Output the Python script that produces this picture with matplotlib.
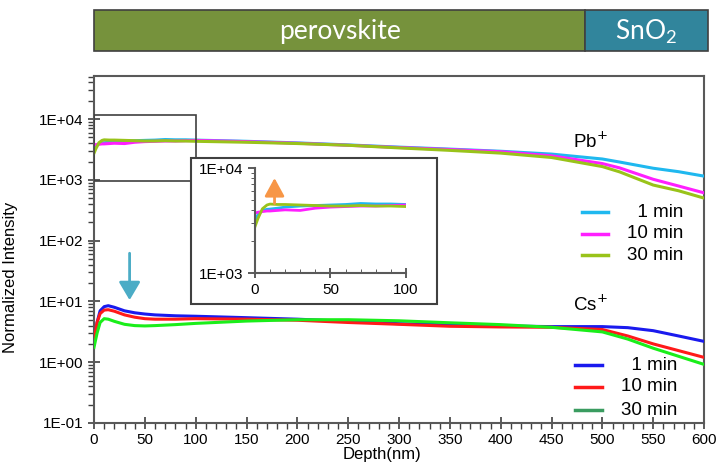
import numpy as np
import matplotlib.pyplot as plt
from matplotlib.patches import Rectangle
from matplotlib.lines import Line2D

plt.rcParams['font.family'] = ['Liberation Sans', 'DejaVu Sans']
plt.rcParams['mathtext.fontset'] = 'custom'
plt.rcParams['mathtext.rm'] = 'Lato'

# depth profile data
depth = [0, 2, 5, 8, 10, 15, 20, 30, 40, 50, 60, 70, 80, 90, 100,
         150, 200, 250, 300, 350, 400, 450, 500, 517, 550, 575, 600]

pb_1 = [3150, 3600, 3950, 4050, 4070, 4150, 4250, 4350, 4400, 4450, 4500, 4600, 4550, 4550, 4500,
        4300, 4050, 3750, 3450, 3200, 2950, 2650, 2200, 1960, 1550, 1360, 1150]
pb_10 = [3730, 3800, 3850, 3900, 3900, 3950, 4000, 3950, 4150, 4250, 4300, 4350, 4350, 4400, 4450,
         4250, 4000, 3700, 3400, 3150, 2900, 2480, 1850, 1570, 1020, 790, 610]
pb_30 = [2750, 3300, 4100, 4450, 4540, 4500, 4500, 4450, 4400, 4350, 4350, 4400, 4350, 4350, 4300,
         4150, 3950, 3700, 3350, 3050, 2750, 2330, 1650, 1350, 820, 660, 500]

cs_depth = [0, 3, 6, 10, 14, 20, 30, 40, 50, 60, 80, 100, 150, 200, 250, 300, 350, 400,
            450, 500, 525, 550, 575, 600]
cs_1 = [2.0, 4.5, 7.0, 8.2, 8.5, 8.0, 7.0, 6.5, 6.2, 6.0, 5.8, 5.7, 5.4, 5.1, 4.7, 4.3, 4.1, 3.95,
        3.85, 3.85, 3.7, 3.3, 2.7, 2.2]
cs_10 = [2.3, 4.5, 6.3, 7.2, 7.3, 6.9, 6.0, 5.5, 5.2, 5.1, 5.1, 5.2, 5.1, 4.9, 4.5, 4.2, 3.9, 3.8,
         3.75, 3.45, 2.7, 2.0, 1.55, 1.2]
cs_30 = [1.76, 3.0, 4.5, 5.2, 5.1, 4.7, 4.2, 4.0, 3.95, 4.0, 4.15, 4.35, 4.75, 5.0, 5.0, 4.8, 4.45, 4.15,
         3.75, 3.15, 2.4, 1.7, 1.25, 0.92]

labels = ['  1 min', '10 min', '30 min']
pb_colors = ['#1fb8ef', '#ff1fff', '#99c31a']
cs_colors = ['#1a1aee', '#ff1a1a', '#1aee1a']
cs_legend_colors = ['#1a1aee', '#ff1a1a', '#3a9c60']

fig = plt.figure(figsize=(7.16, 4.70), dpi=100)
ax = fig.add_axes([0.1313, 0.1, 0.852, 0.7383])

for vals, c in zip([pb_1, pb_10, pb_30], pb_colors):
    ax.plot(depth, vals, color=c, lw=2.2, zorder=3)
for vals, c in zip([cs_1, cs_10, cs_30], cs_colors):
    ax.plot(cs_depth, vals, color=c, lw=2.2, zorder=3)

ax.set_yscale('log')
ax.set_xlim(0, 600)
ax.set_ylim(0.1, 5.1e4)
ax.set_xticks(np.arange(0, 601, 50))
ax.set_xticks(np.arange(0, 601, 10), minor=True)
ax.set_yticks([0.1, 1, 10, 100, 1000, 10000])
ax.set_yticklabels(['1E-01', '1E+00', '1E+01', '1E+02', '1E+03', '1E+04'])
ax.tick_params(which='major', direction='inout', length=8, width=1.2, labelsize=11, colors='#404040',
               labelcolor='black')
ax.tick_params(which='minor', direction='out', length=4, width=1.0, colors='#404040')
ax.tick_params(axis='x', pad=3)
for s in ax.spines.values():
    s.set_color('#595959')
    s.set_linewidth(1.5)
ax.set_xlabel('Depth(nm)', fontsize=12)
ax.xaxis.set_label_coords(0.472, -0.07)
ax.set_ylabel('Normalized Intensity', fontsize=12)
ax.yaxis.set_label_coords(-0.125, 0.42)

# zoom rectangle
ax.add_patch(Rectangle((0, 960), 100, 11500 - 960, fill=False, ec='#404040', lw=1.2, zorder=4))

# labels and legends
ax.text(0.785, 0.81, 'Pb$^{+}$', transform=ax.transAxes, fontsize=13.5, va='center',
        math_fontfamily='dejavusans')
ax.text(0.785, 0.34, 'Cs$^{+}$', transform=ax.transAxes, fontsize=13.5, va='center',
        math_fontfamily='dejavusans')
for i, lab in enumerate(labels):
    y = [0.608, 0.546, 0.484][i]
    ax.add_line(Line2D([0.800, 0.843], [y, y], transform=ax.transAxes, color=pb_colors[i], lw=2.5))
    ax.text(0.9656, y, lab, transform=ax.transAxes, fontsize=13.5, ha='right', va='center')
    y = [0.167, 0.104, 0.037][i]
    ax.add_line(Line2D([0.789, 0.833], [y, y], transform=ax.transAxes, color=cs_legend_colors[i], lw=2.5))
    ax.text(0.956, y, lab, transform=ax.transAxes, fontsize=13.5, ha='right', va='center')

# arrow on Cs
ax.annotate('', xy=(35, 10.5), xytext=(35, 62),
            arrowprops=dict(arrowstyle='-|>,head_width=0.65,head_length=1.1', color='#4bacc6', lw=2,
                            shrinkA=0, shrinkB=0))

# inset frame and inset axes
fig.add_artist(Rectangle((0.2668, 0.3532), 0.3436, 0.3106, transform=fig.transFigure,
                         fc='white', ec='#404040', lw=1.5, zorder=5))
ins = fig.add_axes([0.356, 0.419, 0.211, 0.2234], zorder=6)
ins.patch.set_alpha(0)
for vals, c in zip([pb_1, pb_10, pb_30], pb_colors):
    ins.plot(depth, vals, color=c, lw=2.0)
ins.set_yscale('log')
ins.set_xlim(0, 100)
ins.set_ylim(1000, 10000)
ins.set_xticks([0, 50, 100])
ins.set_xticks(np.arange(0, 101, 10), minor=True)
ins.set_yticks([1000, 10000])
ins.set_yticklabels(['1E+03', '1E+04'])
ins.tick_params(which='major', direction='out', length=5, width=1.2, labelsize=11, colors='#404040',
                labelcolor='black')
ins.tick_params(axis='x', which='major', direction='inout', length=7)
ins.tick_params(which='minor', direction='out', length=3, colors='#404040')
ins.tick_params(axis='x', which='minor', direction='in', length=3)
ins.spines['top'].set_visible(False)
ins.spines['right'].set_visible(False)
for s in ['left', 'bottom']:
    ins.spines[s].set_color('#595959')
    ins.spines[s].set_linewidth(1.5)
ins.annotate('', xy=(13, 8040), xytext=(13, 4600),
             arrowprops=dict(arrowstyle='-|>,head_width=0.6,head_length=1.1', color='#f79646', lw=2,
                             shrinkA=0, shrinkB=0))

# layer bar on top
fig.add_artist(Rectangle((94 / 716, 1 - 50.7 / 470), (585 - 94) / 716, 41.2 / 470,
                         transform=fig.transFigure, fc='#76923c', ec='#404040', lw=1.2))
fig.add_artist(Rectangle((585 / 716, 1 - 50.7 / 470), (708 - 585) / 716, 41.2 / 470,
                         transform=fig.transFigure, fc='#31859c', ec='#404040', lw=1.2))
fig.text(340 / 716, 1 - 32 / 470, 'perovskite', color='white', fontsize=19, family='Lato',
         ha='center', va='center')
fig.text(646 / 716, 1 - 32 / 470, 'SnO$_2$', color='white', fontsize=19, family='Lato',
         ha='center', va='center')

fig.savefig('out.png', dpi=100)
